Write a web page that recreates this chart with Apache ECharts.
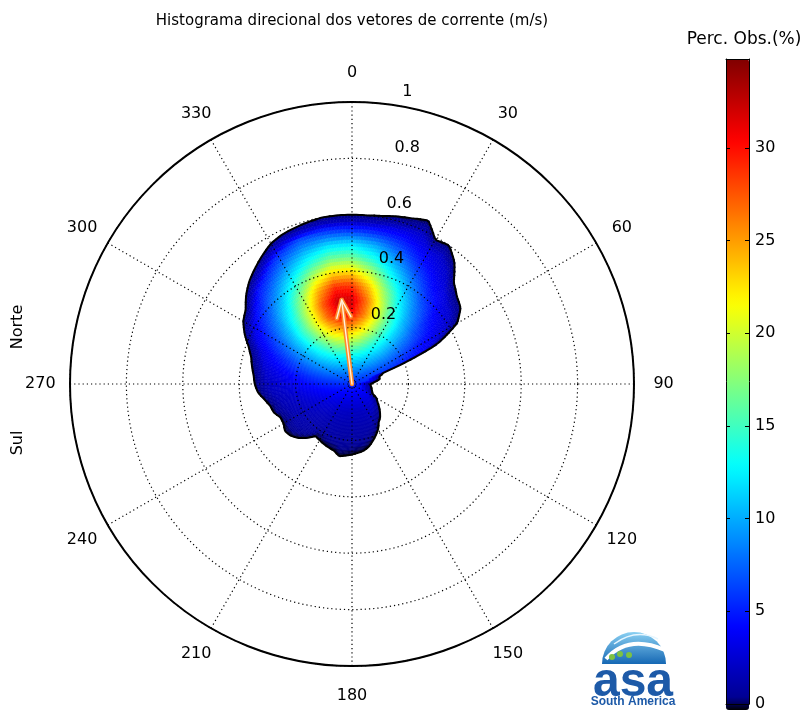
<!DOCTYPE html>
<html><head><meta charset="utf-8">
<script src="https://cdn.jsdelivr.net/npm/echarts@6/dist/echarts.min.js"></script>
<style>html,body{margin:0;padding:0;background:#fff}#chart{width:808px;height:712px}</style>
</head><body><div id="chart"></div>
<script>
// ---------- dados ----------
const direcoes = [0,10,20,30,40,50,60,70,80,90,100,110,120,130,140,150,160,170,180,190,200,210,220,230,240,250,260,270,280,290,300,310,320,330,340,350];
const velocidades = [0,0.05,0.10,0.15,0.20,0.25,0.30,0.35,0.40,0.45,0.50,0.55,0.60,0.65];
// percentual de observações (%) por direção (linhas) e velocidade (colunas)
const percObs = [
 [5.8,9.2,13.2,18.8,25.0,30.3,31.9,28.6,22.7,16.7,11.7,5.4,2.1,1.1],
 [5.8,9.1,12.8,17.7,22.6,26.3,26.8,23.8,19.0,13.9,10.0,5.0,2.1,1.1],
 [5.8,8.8,12.1,15.7,19.1,20.9,20.3,17.7,13.9,10.5,7.4,4.6,2.1,1.15],
 [5.8,8.4,11.1,13.4,15.2,15.7,14.4,12.3,9.8,7.1,4.8,3.2,2.0,1.25],
 [5.8,8.0,9.9,11.4,11.9,11.5,10.2,8.4,6.2,4.4,3.0,2.1,1.5,1.15],
 [5.8,7.4,8.7,9.3,9.1,8.3,6.8,5.2,3.8,2.7,1.95,1.45,1.1,0],
 [5.8,6.9,7.4,7.4,6.7,5.6,4.4,3.3,2.4,1.75,1.4,1.05,0,0],
 [5.8,6.3,6.3,5.8,4.9,3.9,3.0,2.2,1.7,1.3,1.0,0,0,0],
 [5.8,5.8,5.3,4.55,3.65,0,0,0,0,0,0,0,0,0],
 [5.8,5.3,4.55,3.65,0,0,0,0,0,0,0,0,0,0],
 [5.8,4.95,3.95,3.0,0,0,0,0,0,0,0,0,0,0],
 [5.8,4.6,3.45,2.5,0,0,0,0,0,0,0,0,0,0],
 [5.8,4.3,3.05,2.15,1.6,0,0,0,0,0,0,0,0,0],
 [5.8,4.1,2.75,1.95,1.45,0,0,0,0,0,0,0,0,0],
 [5.8,3.9,2.55,1.75,1.3,1.0,0,0,0,0,0,0,0,0],
 [5.8,3.75,2.4,1.7,1.2,0.9,0,0,0,0,0,0,0,0],
 [5.8,3.65,2.3,1.6,1.15,0.88,0.7,0,0,0,0,0,0,0],
 [5.8,3.6,2.25,1.6,1.15,0.86,0.68,0,0,0,0,0,0,0],
 [5.8,3.6,2.25,1.6,1.15,0.86,0.68,0,0,0,0,0,0,0],
 [5.8,3.65,2.3,1.6,1.15,0.88,0.7,0.55,0,0,0,0,0,0],
 [5.8,3.75,2.4,1.7,1.25,0.9,0.72,0,0,0,0,0,0,0],
 [5.8,3.9,2.55,1.75,1.3,1.0,0.75,0,0,0,0,0,0,0],
 [5.8,4.1,2.8,1.95,1.45,1.1,0.85,0,0,0,0,0,0,0],
 [5.8,4.35,3.1,2.2,1.65,1.25,0.95,0.75,0,0,0,0,0,0],
 [5.8,4.65,3.5,2.55,1.9,1.45,1.1,0.86,0,0,0,0,0,0],
 [5.8,4.9,4.0,3.05,2.25,1.7,1.35,1.05,0,0,0,0,0,0],
 [5.8,5.35,4.65,3.75,2.85,2.15,1.65,1.3,1.0,0,0,0,0,0],
 [5.8,5.85,5.4,4.7,3.8,2.9,2.15,1.7,1.3,0,0,0,0,0],
 [5.8,6.35,6.4,5.9,5.05,4.1,3.1,2.0,1.4,1.1,0,0,0,0],
 [5.8,6.95,7.6,7.6,7.0,5.9,4.65,3.1,2.0,1.4,0,0,0,0],
 [5.8,7.5,8.85,9.5,9.45,8.6,7.15,5.5,3.6,2.3,1.5,0,0,0],
 [5.8,8.0,10.0,11.6,12.2,11.9,10.6,8.8,6.55,4.0,2.5,1.6,0,0],
 [5.8,8.5,11.2,13.6,15.6,16.2,15.0,12.8,10.2,7.5,4.3,2.6,1.6,0],
 [5.8,8.85,12.2,16.0,19.5,21.5,21.0,18.4,14.5,11.0,7.7,4.2,2.2,1.2],
 [5.8,9.1,12.8,17.9,23.0,26.9,27.6,24.5,19.5,14.3,10.3,6.45,2.1,1.2],
 [5.8,9.25,13.25,18.9,25.1,30.6,32.3,28.9,22.9,16.8,11.8,6.0,2.35,1.2]
];
// contorno da região com observações (velocidade máxima por setor de 5°)
const direcoesContorno = [0,5,10,15,20,25,30,35,40,45,50,55,60,65,70,75,80,85,90,95,100,105,110,115,120,125,130,135,140,145,150,155,160,165,170,175,180,185,190,195,200,205,210,215,220,225,230,235,240,245,250,255,260,265,270,275,280,285,290,295,300,305,310,315,320,325,330,335,340,345,350,355];
const velContorno = [0.60,0.60,0.605,0.615,0.625,0.64,0.59,0.60,0.565,0.51,0.485,0.47,0.43,0.33,0.12,0.10,0.10,0.08,0.066,0.066,0.07,0.072,0.076,0.08,0.10,0.11,0.125,0.14,0.155,0.165,0.185,0.20,0.215,0.23,0.24,0.245,0.25,0.255,0.26,0.245,0.24,0.235,0.23,0.225,0.25,0.27,0.285,0.29,0.28,0.28,0.295,0.30,0.315,0.335,0.345,0.35,0.36,0.37,0.39,0.42,0.445,0.46,0.49,0.515,0.535,0.555,0.575,0.585,0.59,0.595,0.60,0.60];
// vetor médio
const velMedia = [0.30];
const dirMedia = [353];
// rótulos
const rotulosAngulo = [0,30,60,90,120,150,180,210,240,270,300,330];
const rotulosRaio = [0.2,0.4,0.6,0.8,1];
const escalaCor = [0, 34.8];

const FONTE = '"DejaVu Sans", sans-serif';

// ---------- colormap (jet) ----------
function jetRGB(t){const c=x=>Math.max(0,Math.min(1,x));return [c(1.5-Math.abs(4*t-3)),c(1.5-Math.abs(4*t-2)),c(1.5-Math.abs(4*t-1))];}
const paletaRGB = Array.from({length:64},(_,k)=> k===0?[0,0,0]:jetRGB(k/63));
const paletaHex = paletaRGB.map(rgb=>'#'+rgb.map(v=>Math.round(v*255).toString(16).padStart(2,'0')).join(''));
function corDe(v){
  let t=(v-escalaCor[0])/(escalaCor[1]-escalaCor[0]); t=Math.max(0,Math.min(1,t));
  const x=t*63; const k=Math.min(62,Math.floor(x)); const f=x-k;
  const a=paletaRGB[k], b=paletaRGB[k+1];
  return 'rgb('+[0,1,2].map(i=>Math.round((a[i]+(b[i]-a[i])*f)*255)).join(',')+')';
}
// interpolação bilinear (shading interp)
function valorEm(vel, dir){
  const nd=direcoes.length, passoD=direcoes[1]-direcoes[0];
  const a=((dir%360)+360)%360;
  const q=a/passoD, j0=Math.floor(q)%nd, j1=(j0+1)%nd, fa=q-Math.floor(q);
  const passoV=velocidades[1]-velocidades[0];
  let i0=Math.floor(vel/passoV); if(i0>velocidades.length-2) i0=velocidades.length-2;
  const fv=vel/passoV-i0;
  const A=percObs[j0], B=percObs[j1];
  return (1-fa)*((1-fv)*A[i0]+fv*A[i0+1]) + fa*((1-fv)*B[i0]+fv*B[i0+1]);
}
// limite do contorno interpolado entre setores
function limiteEm(dir){
  const n=direcoesContorno.length, passo=direcoesContorno[1]-direcoesContorno[0];
  const a=((dir%360)+360)%360, q=a/passo, j0=Math.floor(q)%n, j1=(j0+1)%n, f=q-Math.floor(q);
  return velContorno[j0]*(1-f)+velContorno[j1]*f;
}

const chart = echarts.init(document.getElementById('chart'));

function geo(api){
  const c=api.coord([0,0]); const p=api.coord([1,0]);
  const px=Math.hypot(p[0]-c[0],p[1]-c[1]);
  const ang=a=>{const q=api.coord([1,a]);return Math.atan2(q[1]-c[1],q[0]-c[0]);};
  return {c,px,ang};
}

const option = {
  animation:false,
  backgroundColor:'#fff',
  polar:{center:[352,384],radius:282},
  angleAxis:{
    type:'value',min:0,max:360,interval:30,startAngle:90,clockwise:true,z:4,
    axisLine:{show:true,lineStyle:{color:'#000',width:2}},
    axisTick:{show:false},
    axisLabel:{show:false},
    splitLine:{show:true,lineStyle:{color:'#000',width:1.2,type:[1.2,3]}}
  },
  radiusAxis:{
    type:'value',min:0,max:1,interval:0.2,z:4,
    axisLine:{show:false},axisTick:{show:false},axisLabel:{show:false},
    splitLine:{show:true,lineStyle:{color:'#000',width:1.2,type:[1.2,3]}}
  },
  grid:[{left:726,top:59,width:23,height:651,show:false}],
  xAxis:[
    {gridIndex:0,type:'value',min:0,max:1,position:'bottom',z:10,axisLine:{show:true,onZero:false,lineStyle:{color:'#000',width:1}},axisTick:{show:false},axisLabel:{show:false},splitLine:{show:false}},
    {gridIndex:0,type:'value',min:0,max:1,position:'top',z:10,axisLine:{show:true,onZero:false,lineStyle:{color:'#000',width:1}},axisTick:{show:false},axisLabel:{show:false},splitLine:{show:false}}
  ],
  yAxis:[
    {gridIndex:0,type:'value',min:escalaCor[0],max:escalaCor[1],interval:5,position:'right',z:10,
     axisLine:{show:true,onZero:false,lineStyle:{color:'#000',width:1}},
     axisTick:{show:true,inside:true,length:4,lineStyle:{color:'#000'}},
     axisLabel:{show:true,margin:6,fontSize:16,color:'#000',fontFamily:FONTE,showMaxLabel:false},
     splitLine:{show:false}},
    {gridIndex:0,type:'value',min:escalaCor[0],max:escalaCor[1],interval:5,position:'left',z:10,
     axisLine:{show:true,onZero:false,lineStyle:{color:'#000',width:1}},
     axisTick:{show:true,inside:true,length:4,lineStyle:{color:'#000'}},
     axisLabel:{show:false},splitLine:{show:false}}
  ],
  visualMap:{
    type:'continuous',min:escalaCor[0],max:escalaCor[1],seriesIndex:0,dimension:0,
    inRange:{color:paletaHex},orient:'vertical',left:726,top:59,itemWidth:23,itemHeight:651,
    calculable:false,hoverLink:false,padding:0,z:5
  },
  graphic:[
    {type:'text',x:352,y:21,z:20,style:{text:'Histograma direcional dos vetores de corrente (m/s)',fill:'#000',font:'15px '+FONTE,align:'center',verticalAlign:'middle'}},
    {type:'text',x:744,y:40,z:20,style:{text:'Perc. Obs.(%)',fill:'#000',font:'17px '+FONTE,align:'center',verticalAlign:'middle'}},
    {type:'text',x:18,y:327,rotation:Math.PI/2,z:20,style:{text:'Norte',fill:'#000',font:'16px '+FONTE,align:'center',verticalAlign:'middle'}},
    {type:'text',x:18,y:443,rotation:Math.PI/2,z:20,style:{text:'Sul',fill:'#000',font:'16px '+FONTE,align:'center',verticalAlign:'middle'}},
    {type:'group',z:20,children:[
      {type:'sector',shape:{cx:634,cy:664,r0:0,r:32,startAngle:Math.PI,endAngle:2*Math.PI},
       style:{fill:new echarts.graphic.LinearGradient(0,0,0,1,[{offset:0,color:'#8ad0f2'},{offset:1,color:'#1668b4'}])}},
      {type:'bezierCurve',shape:{x1:606,y1:659,x2:665,y2:650,cpx1:628,cpy1:634},style:{stroke:'#fff',lineWidth:4,fill:null}},
      {type:'bezierCurve',shape:{x1:614,y1:644,x2:658,y2:639,cpx1:636,cpy1:628},style:{stroke:'#e6f6ff',lineWidth:1.5,fill:null}},
      {type:'circle',shape:{cx:612,cy:657,r:3},style:{fill:'#7dc242'}},
      {type:'circle',shape:{cx:620,cy:654,r:3},style:{fill:'#7dc242'}},
      {type:'circle',shape:{cx:629,cy:655,r:3},style:{fill:'#7dc242'}},
      {type:'text',x:633,y:683,style:{text:'asa',fill:'#1d5aa8',font:'bold 48px "Liberation Sans", Arial, sans-serif',align:'center',verticalAlign:'middle'}},
      {type:'text',x:633,y:702,style:{text:'South America',fill:'#1d5aa8',font:'bold 12px "Liberation Sans", Arial, sans-serif',align:'center',verticalAlign:'middle'}}
    ]}
  ],
  series:[
    { // campo de densidade
      type:'custom',coordinateSystem:'polar',z:2,silent:true,
      data:direcoesContorno.map((d,b)=>[velContorno[b],d]),
      renderItem:function(params,api){
        const dir=api.value(1);
        const passoA=direcoesContorno[1]-direcoesContorno[0];
        const g=geo(api);
        const nA=5, passoR=0.0125, fade=0.045;
        const children=[];
        for(let ia=0;ia<nA;ia++){
          const a0=dir-passoA/2+ia*passoA/nA, a1=a0+passoA/nA, am=(a0+a1)/2;
          const lim=limiteEm(am);
          let s=g.ang(a0), e=g.ang(a1); if(e<s) e+=2*Math.PI;
          const nR=Math.ceil(lim/passoR-1e-9);
          for(let k=0;k<nR;k++){
            const r0=k*passoR, r1=Math.min(lim,(k+1)*passoR), rm=(r0+r1)/2;
            const atenua=Math.min(1,0.15+0.85*(lim-rm)/fade);
            const col=corDe(valorEm(rm,am)*atenua);
            children.push({type:'sector',shape:{cx:g.c[0],cy:g.c[1],r0:r0*g.px,r:r1*g.px,startAngle:s,endAngle:e,clockwise:true},
              style:{fill:col,stroke:col,lineWidth:0.6}});
          }
        }
        return {type:'group',children};
      }
    },
    { // contorno
      type:'custom',coordinateSystem:'polar',z:3,silent:true,
      data:direcoesContorno.map((d,b)=>[velContorno[b],d]),
      renderItem:function(params,api){
        const dir=api.value(1);
        const passoA=direcoesContorno[1]-direcoesContorno[0];
        const pts=[];
        for(let t=0;t<=5;t++){const a=dir-passoA/2+t*passoA/5; pts.push(api.coord([limiteEm(a),a]));}
        return {type:'polyline',shape:{points:pts},style:{stroke:'#000',lineWidth:2,fill:null,lineCap:'round',lineJoin:'round'}};
      }
    },
    { // vetor médio
      type:'custom',coordinateSystem:'polar',z:6,silent:true,
      data:velMedia.map((v,i)=>[v,dirMedia[i]]),
      renderItem:function(params,api){
        const p0=api.coord([0,0]), p1=api.coord([api.value(0),api.value(1)]);
        const L=Math.hypot(p1[0]-p0[0],p1[1]-p0[1]);
        const ux=(p1[0]-p0[0])/L, uy=(p1[1]-p0[1])/L;
        const h=19, ang=22*Math.PI/180;
        const rot=(x,y,a)=>[x*Math.cos(a)-y*Math.sin(a),x*Math.sin(a)+y*Math.cos(a)];
        const v1=rot(-ux,-uy,ang), v2=rot(-ux,-uy,-ang);
        const b1=[p1[0]+h*v1[0],p1[1]+h*v1[1]], b2=[p1[0]+h*v2[0],p1[1]+h*v2[1]];
        const mk=(pts,col,w)=>({type:'polyline',shape:{points:pts},style:{stroke:col,lineWidth:w,fill:null,lineCap:'round',lineJoin:'round'}});
        return {type:'group',children:[
          mk([p0,p1],'#ff8a2a',4.5), mk([b1,p1,b2],'#ff8a2a',4.5),
          mk([p0,p1],'#fff3e0',1.4), mk([b1,p1,b2],'#fff3e0',1.4)
        ]};
      }
    },
    { // rótulos do raio
      type:'custom',coordinateSystem:'polar',z:8,silent:true,
      data:rotulosRaio.map(v=>[v,8]),
      renderItem:function(params,api){
        const v=api.value(0); const p=api.coord([v,api.value(1)]);
        return {type:'text',x:p[0]+11,y:p[1]-13,style:{text:(v===1?'1':v.toFixed(1)),fill:'#000',font:'16px '+FONTE,align:'left',verticalAlign:'middle'}};
      }
    },
    { // rótulos de direção (fora do círculo máximo)
      type:'custom',coordinateSystem:'polar',z:8,silent:true,clip:false,
      data:rotulosAngulo.map(a=>[1.105,a]),
      renderItem:function(params,api){
        const p=api.coord([api.value(0),api.value(1)]);
        return {type:'text',x:p[0],y:p[1],style:{text:String(api.value(1)),fill:'#000',font:'16px '+FONTE,align:'center',verticalAlign:'middle'}};
      }
    }
  ]
};
chart.setOption(option);
</script></body></html>
